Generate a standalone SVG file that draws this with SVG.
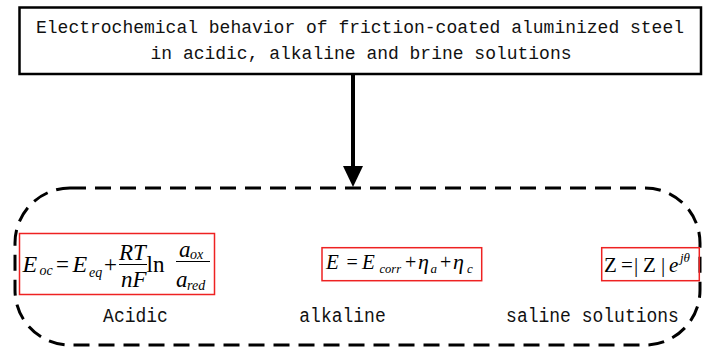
<svg xmlns="http://www.w3.org/2000/svg" width="703" height="349" viewBox="0 0 703 349">
<style>
.mono{font-family:"Liberation Mono","DejaVu Sans Mono",monospace;font-size:20px;fill:#111;}
.t{font-size:18.5px;}
.m{font-family:"Liberation Serif","Times New Roman",serif;fill:#000;}
.i{font-style:italic;}
.red{fill:none;stroke:#ee2222;stroke-width:1.5;}
.frac{stroke:#000;stroke-width:1;}
</style>
<rect width="703" height="349" fill="#fff"/>
<g id="title">
<rect x="19.5" y="7.5" width="681.5" height="66.5" fill="#fff" stroke="#000" stroke-width="2.5"/>
<text class="mono t" x="360" y="33" text-anchor="middle" textLength="648" lengthAdjust="spacingAndGlyphs">Electrochemical behavior of friction-coated aluminized steel</text>
<text class="mono t" x="361" y="59" text-anchor="middle" textLength="421" lengthAdjust="spacingAndGlyphs">in acidic, alkaline and brine solutions</text>
</g>
<g id="connectors">
<line x1="353" y1="74" x2="353" y2="168" stroke="#000" stroke-width="4"/>
<path d="M343,166 L363,166 L353,187 Z" fill="#000"/>
</g>
<g id="group">
<rect x="15" y="188" width="685" height="157" rx="55" ry="55" fill="none" stroke="#000" stroke-width="3" stroke-dasharray="16 9"/>
</g>
<g id="acidic">
<rect class="red" x="19.5" y="233.5" width="195" height="61"/>
<text class="m i" x="22.5" y="271.5" font-size="24">E</text>
<text class="m i" x="39.5" y="274.5" font-size="14">oc</text>
<text class="m" x="56" y="271.5" font-size="23">=</text>
<text class="m i" x="72.5" y="271.5" font-size="24">E</text>
<text class="m i" x="89" y="276.5" font-size="14">eq</text>
<text class="m" x="104" y="271.5" font-size="23">+</text>
<text class="m i" x="119" y="260" font-size="23">RT</text>
<line class="frac" x1="119" y1="264.5" x2="147" y2="264.5"/>
<text class="m i" x="121" y="287" font-size="23">nF</text>
<text class="m" x="146.5" y="271.5" font-size="23">ln</text>
<text class="m i" x="179" y="256.5" font-size="23">a</text>
<text class="m i" x="190" y="259" font-size="14">ox</text>
<line class="frac" x1="176" y1="261.5" x2="210" y2="261.5"/>
<text class="m i" x="176" y="287" font-size="23">a</text>
<text class="m i" x="187" y="290" font-size="14">red</text>
<text class="mono" x="135.5" y="321.5" text-anchor="middle" textLength="64.8" lengthAdjust="spacingAndGlyphs">Acidic</text>
</g>
<g id="alkaline">
<rect class="red" x="322" y="247.7" width="159.7" height="33"/>
<text class="m i" x="326" y="269.3" font-size="21">E</text>
<text class="m" x="346.5" y="269.3" font-size="20">=</text>
<text class="m i" x="362" y="269.3" font-size="21">E</text>
<text class="m i" x="379.5" y="272.5" font-size="12.5">corr</text>
<text class="m" x="405" y="269.3" font-size="20">+</text>
<text class="m i" x="418" y="269.3" font-size="22">η</text>
<text class="m i" x="430.5" y="273" font-size="13">a</text>
<text class="m" x="440" y="269.3" font-size="20">+</text>
<text class="m i" x="453" y="269.3" font-size="22">η</text>
<text class="m i" x="467" y="273" font-size="13">c</text>
<text class="mono" x="342.5" y="321.5" text-anchor="middle" textLength="86.4" lengthAdjust="spacingAndGlyphs">alkaline</text>
</g>
<g id="saline">
<rect class="red" x="601.7" y="247.7" width="97.6" height="33"/>
<text class="m" x="604" y="272.3" font-size="21">Z</text>
<text class="m" x="621" y="272.3" font-size="21">=</text>
<text class="m" x="634" y="272.3" font-size="21">|</text>
<text class="m" x="643" y="272.3" font-size="21">Z</text>
<text class="m" x="661" y="272.3" font-size="21">|</text>
<text class="m i" x="669" y="272.3" font-size="21">e</text>
<text class="m i" x="680" y="261.5" font-size="13">jθ</text>
<text class="mono" x="592.5" y="321.5" text-anchor="middle" textLength="172.8" lengthAdjust="spacingAndGlyphs">saline solutions</text>
</g>
</svg>
